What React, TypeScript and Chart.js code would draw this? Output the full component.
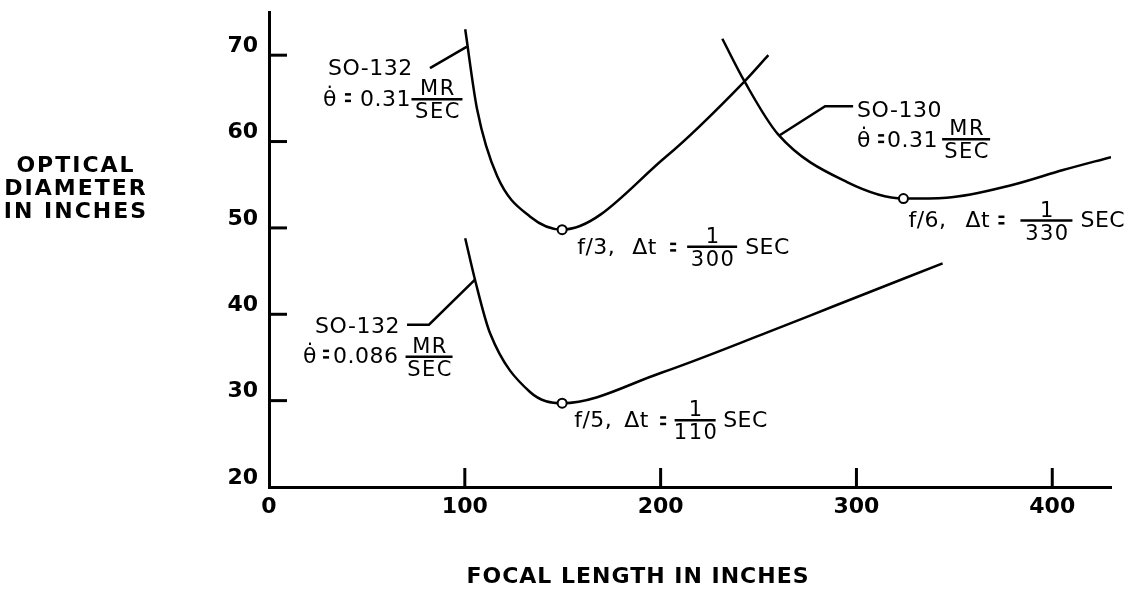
import React, { useEffect, useRef } from "react";
import { Chart, registerables } from "chart.js";
Chart.register(...registerables);

// ---- data ----
const xTickValues = [0, 100, 200, 300, 400];
const yTickValues = [20, 30, 40, 50, 60, 70];

const so132FastFocal = [100.2, 106.3, 116.5, 133.4, 149.7, 203, 243, 255];
const so132FastDiam = [73.0, 63.7, 56.0, 51.3, 49.8, 58.3, 67.0, 70.0];

const so130Focal = [231.5, 243, 260.1, 295.2, 324, 346, 380, 405.5, 430];
const so130Diam = [71.9, 66.9, 60.8, 55.3, 53.4, 53.5, 55.0, 56.7, 58.2];

const so132SlowFocal = [100.2, 105.2, 112.9, 133.3, 149.7, 200, 254.5, 288, 344];
const so132SlowDiam = [48.8, 44.0, 37.8, 31.0, 29.7, 33.2, 37.9, 40.9, 45.9];

const leaderAFocal = [101.1, 82.2];
const leaderADiam = [71.0, 68.5];
const leaderCFocal = [260.6, 284, 298.3];
const leaderCDiam = [60.7, 64.1, 64.1];
const leaderBFocal = [105.2, 81.7, 70.5];
const leaderBDiam = [44.0, 38.8, 38.8];

const optimumFocal = [149.7, 324, 149.7];
const optimumDiam = [49.8, 53.4, 29.7];

const zip = (xs: number[], ys: number[]) => xs.map((x, i) => ({ x, y: ys[i] }));

// ---- annotations (anchored at data points, offsets in px) ----
type Item = { t?: string; frac?: [string, string]; eq?: boolean; dx: number; dy: number; w?: number };
const annotations: { at: [number, number]; items: Item[] }[] = [
  {
    at: [82.2, 68.5],
    items: [
      { t: "SO-132", dx: -102, dy: 7 },
      { t: "\u03B8\u0307", dx: -107, dy: 38 },
      { eq: true, dx: -85, dy: 38 },
      { t: "0.31", dx: -70, dy: 38 },
      { frac: ["MR", "SEC"], dx: 7, dy: 31, w: 51 },
    ],
  },
  {
    at: [298.3, 64.1],
    items: [
      { t: "SO-130", dx: 4, dy: 11 },
      { t: "\u03B8\u0307", dx: 4, dy: 41 },
      { eq: true, dx: 25, dy: 41 },
      { t: "0.31", dx: 34, dy: 41 },
      { frac: ["MR", "SEC"], dx: 113, dy: 33, w: 48 },
    ],
  },
  {
    at: [70.5, 38.8],
    items: [
      { t: "SO-132", dx: -92, dy: 8 },
      { t: "\u03B8\u0307", dx: -104, dy: 38 },
      { eq: true, dx: -84, dy: 38 },
      { t: "0.086", dx: -74, dy: 38 },
      { frac: ["MR", "SEC"], dx: 22, dy: 32, w: 47 },
    ],
  },
  {
    at: [149.7, 49.8],
    items: [
      { t: "f/3,", dx: 15, dy: 24 },
      { t: "\u0394t", dx: 70, dy: 24 },
      { eq: true, dx: 108, dy: 26 },
      { frac: ["1", "300"], dx: 150, dy: 17, w: 50 },
      { t: "SEC", dx: 183, dy: 24 },
    ],
  },
  {
    at: [324, 53.4],
    items: [
      { t: "f/6,", dx: 5, dy: 28 },
      { t: "\u0394t", dx: 62, dy: 28 },
      { eq: true, dx: 95, dy: 30 },
      { frac: ["1", "330"], dx: 143, dy: 22, w: 52 },
      { t: "SEC", dx: 177, dy: 28 },
    ],
  },
  {
    at: [149.7, 29.7],
    items: [
      { t: "f/5,", dx: 12, dy: 24 },
      { t: "\u0394t", dx: 62, dy: 24 },
      { eq: true, dx: 98, dy: 26 },
      { frac: ["1", "110"], dx: 133, dy: 17, w: 41 },
      { t: "SEC", dx: 161, dy: 24 },
    ],
  },
];

const yTitleLines = ["OPTICAL", "DIAMETER", "IN INCHES"];
const xTitle = "FOCAL LENGTH IN INCHES";

const FONT = "DejaVu Sans";

const decorPlugin = {
  id: "decor",
  afterDraw(chart: any) {
    const ctx: CanvasRenderingContext2D = chart.ctx;
    const xs = chart.scales.x;
    const ys = chart.scales.y;
    const area = chart.chartArea;
    ctx.save();
    ctx.strokeStyle = "#000";
    ctx.fillStyle = "#000";
    ctx.lineCap = "butt";
    // inside tick marks
    ctx.lineWidth = 3;
    xs.ticks.forEach((t: any) => {
      if (t.value <= xs.min) return;
      const p = xs.getPixelForValue(t.value);
      ctx.beginPath();
      ctx.moveTo(p, area.bottom);
      ctx.lineTo(p, area.bottom - 19);
      ctx.stroke();
    });
    ys.ticks.forEach((t: any) => {
      if (t.value <= ys.min) return;
      const p = ys.getPixelForValue(t.value);
      ctx.beginPath();
      ctx.moveTo(area.left, p);
      ctx.lineTo(area.left + 18, p);
      ctx.stroke();
    });
    // annotations
    ctx.textBaseline = "alphabetic";
    annotations.forEach((a) => {
      const px = xs.getPixelForValue(a.at[0]);
      const py = ys.getPixelForValue(a.at[1]);
      a.items.forEach((it) => {
        if (it.frac) {
          const cx = px + it.dx;
          const ly = py + it.dy;
          const w = it.w || 50;
          ctx.lineWidth = 2.5;
          ctx.beginPath();
          ctx.moveTo(cx - w / 2, ly);
          ctx.lineTo(cx + w / 2, ly);
          ctx.stroke();
          ctx.font = `21px "${FONT}"`;
          (ctx as any).letterSpacing = "1.5px";
          ctx.textAlign = "center";
          ctx.fillText(it.frac[0], cx + 1, ly - 4);
          ctx.fillText(it.frac[1], cx + 1, ly + 19);
        } else if (it.eq) {
          const x0 = px + it.dx;
          const y0 = py + it.dy;
          ctx.fillRect(x0, y0 - 13, 6, 2.5);
          ctx.fillRect(x0, y0 - 6.5, 6, 2.5);
        } else if (it.t) {
          ctx.font = `22px "${FONT}"`;
          (ctx as any).letterSpacing = "0.5px";
          ctx.textAlign = "left";
          ctx.fillText(it.t, px + it.dx, py + it.dy);
        }
      });
    });
    // axis titles
    ctx.font = `bold 22px "${FONT}"`;
    (ctx as any).letterSpacing = "2px";
    ctx.textAlign = "center";
    yTitleLines.forEach((line, i) => {
      ctx.fillText(line, 76, 172 + i * 23);
    });
    (ctx as any).letterSpacing = "1px";
    ctx.fillText(xTitle, 638, 583);
    ctx.restore();
  },
};

export default function App() {
  const ref = useRef<HTMLCanvasElement | null>(null);
  useEffect(() => {
    if (!ref.current) return;
    const lineStyle = {
      borderColor: "#000",
      borderWidth: 2.5,
      pointRadius: 0,
      fill: false,
    };
    const curveStyle = { ...lineStyle, cubicInterpolationMode: "monotone" };
    const chart = new Chart(ref.current, {
      type: "line",
      data: {
        datasets: [
          {
            label: "optimum",
            data: zip(optimumFocal, optimumDiam),
            showLine: false,
            pointRadius: 4.5,
            pointBorderWidth: 2,
            pointBorderColor: "#000",
            pointBackgroundColor: "#fff",
            borderColor: "#000",
          } as any,
          { label: "SO-132 0.31", data: zip(so132FastFocal, so132FastDiam), ...curveStyle } as any,
          { label: "SO-130 0.31", data: zip(so130Focal, so130Diam), ...curveStyle } as any,
          { label: "SO-132 0.086", data: zip(so132SlowFocal, so132SlowDiam), ...curveStyle } as any,
          { label: "leaderA", data: zip(leaderAFocal, leaderADiam), tension: 0, ...lineStyle } as any,
          { label: "leaderC", data: zip(leaderCFocal, leaderCDiam), tension: 0, ...lineStyle } as any,
          { label: "leaderB", data: zip(leaderBFocal, leaderBDiam), tension: 0, ...lineStyle } as any,
        ],
      },
      options: {
        responsive: false,
        animation: false,
        layout: { padding: { left: 0, right: 19, top: 12, bottom: 0 } },
        plugins: { legend: { display: false }, tooltip: { enabled: false } },
        scales: {
          x: {
            type: "linear",
            min: 0,
            max: 430,
            afterBuildTicks: (s: any) => {
              s.ticks = xTickValues.map((v) => ({ value: v }));
            },
            afterFit: (s: any) => {
              s.height = 105;
              s.paddingLeft = 0;
              s.paddingRight = 0;
            },
            ticks: {
              color: "#000",
              font: { family: FONT, size: 22, weight: "bold" },
              padding: 7,
              maxRotation: 0,
            },
            grid: { display: true, drawOnChartArea: false, drawTicks: false },
            border: { display: true, color: "#000", width: 3 },
          },
          y: {
            type: "linear",
            min: 20,
            max: 75,
            afterBuildTicks: (s: any) => {
              s.ticks = yTickValues.map((v) => ({ value: v }));
            },
            afterFit: (s: any) => {
              s.width = 269;
              s.paddingTop = 0;
              s.paddingBottom = 0;
            },
            ticks: {
              color: "#000",
              font: { family: FONT, size: 22, weight: "bold" },
              padding: 11,
              labelOffset: -9,
            },
            grid: { display: true, drawOnChartArea: false, drawTicks: false },
            border: { display: true, color: "#000", width: 3 },
          },
        },
      },
      plugins: [decorPlugin],
    } as any);
    return () => chart.destroy();
  }, []);
  return (
    <div style={{ position: "fixed", left: 0, top: 0, width: 1130, height: 592, background: "#fff" }}>
      <canvas ref={ref} width={1130} height={592} style={{ display: "block" }} />
    </div>
  );
}
